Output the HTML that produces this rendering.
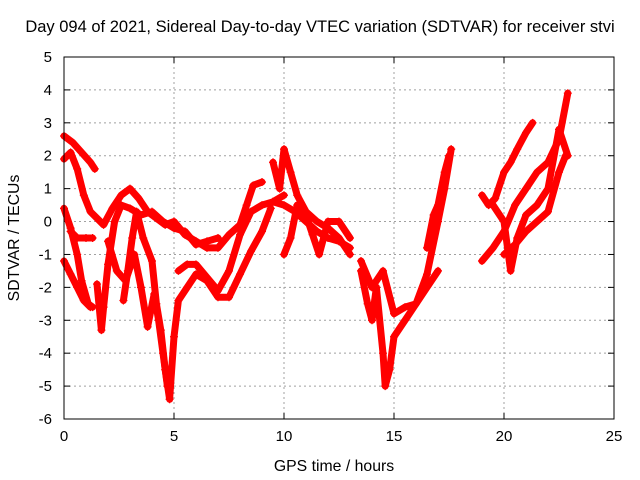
<!DOCTYPE html>
<html><head><meta charset="utf-8"><style>
html,body{margin:0;padding:0;background:#fff}
svg{display:block;font-family:"Liberation Sans",sans-serif}
</style></head><body>
<svg id="chart" width="640" height="480" viewBox="0 0 640 480">
<rect width="640" height="480" fill="#fff"/>
<text x="320" y="32" font-size="16.5" text-anchor="middle" fill="#000">Day 094 of 2021, Sidereal Day-to-day VTEC variation (SDTVAR) for receiver stvi</text>
<text x="334" y="471" font-size="15.8" text-anchor="middle" fill="#000">GPS time / hours</text>
<text transform="translate(19,238) rotate(-90)" font-size="15.8" text-anchor="middle" fill="#000">SDTVAR / TECUs</text>
<g id="grid"></g>
<g id="axes"></g>
<g id="series"></g>
<rect x="64" y="57" width="550" height="362" fill="none" stroke="#000" stroke-width="1"/>
</svg>
<script>
const xTicks=[0,5,10,15,20,25];
const yTicks=[5,4,3,2,1,0,-1,-2,-3,-4,-5,-6];
const s1=[[0,2.6],[0.4,2.4],[0.8,2.1],[1.2,1.8],[1.4,1.6]];
const s2=[[0,1.9],[0.3,2.1],[0.6,1.6],[0.9,0.8],[1.2,0.3],[1.5,0.1],[1.8,-0.1],[2.2,0.4],[2.6,0.8],[3.0,1.0],[3.4,0.7],[3.8,0.3],[4.2,0.1],[4.6,-0.1],[5.0,0.0],[5.5,-0.4],[6.0,-0.6],[6.5,-0.8],[7.0,-0.8],[7.5,-0.4],[8.0,-0.1],[8.3,0.5],[8.6,1.1],[9.0,1.2]];
const s3=[[0,0.4],[0.3,-0.2],[0.6,-1.0],[0.8,-1.8],[1.1,-2.5],[1.3,-2.6]];
const s4=[[0,-1.2],[0.3,-1.6],[0.6,-2.0],[0.9,-2.4],[1.2,-2.6]];
const s5=[[0.3,-0.3],[0.6,-0.5],[1.0,-0.5],[1.3,-0.5]];
const s6=[[1.5,-1.9],[1.7,-3.3],[1.8,-2.6],[2.0,-1.3],[2.3,0.0],[2.6,0.5],[3.0,0.4],[3.5,0.2],[4.0,0.3],[4.5,0.0],[5.0,-0.2],[5.5,-0.3],[6.0,-0.7],[6.5,-0.6],[7.0,-0.5]];
const s7=[[2.7,-2.4],[2.9,-1.5],[3.1,-0.5],[3.3,0.3],[3.6,-0.5],[4.0,-1.2],[4.2,-2.5],[4.4,-3.3],[4.6,-4.5],[4.8,-5.4],[5.0,-3.5],[5.2,-2.4],[5.6,-2.0],[6.0,-1.6],[6.5,-1.8],[7.0,-2.3],[7.5,-2.3],[8.0,-1.6],[8.5,-0.9],[9.0,-0.3],[9.4,0.4]];
const s8=[[2.0,-0.6],[2.4,-1.5],[2.8,-1.8],[3.2,-1.0],[3.5,-2.0],[3.8,-3.2],[4.1,-2.2],[4.3,-3.0],[4.5,-4.0],[4.7,-5.0]];
const s9=[[5.2,-1.5],[5.6,-1.3],[6.0,-1.3],[6.5,-1.7],[7.0,-2.1],[7.5,-1.5],[8.0,-0.4],[8.5,0.3],[9.0,0.5],[9.5,0.6],[10.0,0.8]];
const s10=[[9.5,1.8],[9.8,1.0],[10.0,2.2],[10.3,1.5],[10.6,0.8],[11.0,0.3],[11.5,0.0],[12.0,-0.2],[12.5,-0.5],[13.0,-1.0]];
const s11=[[9.5,0.6],[10.0,0.5],[10.5,0.3],[11.0,0.0],[11.5,-0.3],[12.0,-0.5],[12.5,-0.6],[13.0,-0.8]];
const s12=[[10.0,-1.0],[10.3,-0.5],[10.6,0.5],[11.0,0.2],[11.3,-0.4],[11.6,-1.0],[12.0,0.0],[12.5,0.0],[13.0,-0.5]];
const s13=[[13.5,-1.5],[13.8,-2.5],[14.0,-3.0],[14.2,-2.0],[14.5,-4.0],[14.6,-5.0],[14.8,-4.5],[15.0,-3.5],[15.5,-3.0],[16.0,-2.5],[16.5,-2.0],[17.0,-1.5]];
const s14=[[13.5,-1.2],[14.0,-2.0],[14.5,-1.5],[15.0,-2.8],[15.5,-2.6],[16.0,-2.5],[16.5,-1.6],[17.0,0.0],[17.3,1.0],[17.6,2.2]];
const s15=[[16.5,-0.8],[16.8,0.2],[17.0,0.5],[17.3,1.5],[17.5,2.0]];
const s16=[[19.0,0.8],[19.3,0.5],[19.6,0.7],[20.0,1.5],[20.3,1.8],[20.6,2.2],[21.0,2.7],[21.3,3.0]];
const s17=[[19.0,-1.2],[19.5,-0.8],[20.0,-0.3],[20.5,0.5],[21.0,1.0],[21.5,1.5],[22.0,1.8],[22.5,2.5],[22.9,3.9]];
const s18=[[19.5,0.5],[20.0,0.0],[20.3,-1.5],[20.6,-0.5],[21.0,0.2],[21.5,0.5],[22.0,1.0],[22.5,2.8],[22.9,2.0]];
const s19=[[20.0,-1.0],[20.5,-0.7],[21.0,-0.3],[21.5,0.0],[22.0,0.3],[22.5,1.5],[22.8,2.0]];
const allSeries=[s1,s2,s3,s4,s5,s6,s7,s8,s9,s10,s11,s12,s13,s14,s15,s16,s17,s18,s19];

const NS="http://www.w3.org/2000/svg";
const X0=64,X1=614,Y0=419,Y1=57;
function xs(v){return X0+(v-0)/(25-0)*(X1-X0);}
function ys(v){return Y0-(v-(-6))/(5-(-6))*(Y0-Y1);}
function mk(tag,attrs,parent){const e=document.createElementNS(NS,tag);for(const k in attrs)e.setAttribute(k,attrs[k]);parent.appendChild(e);return e;}
const grid=document.getElementById('grid'),axes=document.getElementById('axes'),ser=document.getElementById('series');
xTicks.forEach(t=>{
  const x=xs(t);
  if(t>0&&t<25){const l=mk('line',{x1:x,x2:x,y1:Y0,y2:Y1,stroke:'#a0a0a0','stroke-dasharray':'2,3','stroke-width':1},grid);
  
  }
  mk('line',{x1:x,x2:x,y1:Y0,y2:Y0-6,stroke:'#000'},axes);
  mk('line',{x1:x,x2:x,y1:Y1,y2:Y1+6,stroke:'#000'},axes);
  const tx=mk('text',{x:x,y:Y0+22,'font-size':15,'text-anchor':'middle'},axes);tx.textContent=t;
  
  
});
yTicks.forEach(t=>{
  const y=ys(t);
  if(t>-6&&t<5){const l=mk('line',{x1:X0,x2:X1,y1:y,y2:y,stroke:'#a0a0a0','stroke-dasharray':'2,3','stroke-width':1},grid);
  
  }
  mk('line',{x1:X0,x2:X0+6,y1:y,y2:y,stroke:'#000'},axes);
  mk('line',{x1:X1,x2:X1-6,y1:y,y2:y,stroke:'#000'},axes);
  const tx=mk('text',{x:X0-12,y:y+5,'font-size':15,'text-anchor':'end'},axes);tx.textContent=t;
  
  
});
allSeries.forEach((s,i)=>{
  const pts=s.map(p=>xs(p[0])+','+ys(p[1])).join(' ');
  const pl=mk('polyline',{points:pts,fill:'none',stroke:'#ff0000','stroke-width':7,'stroke-linejoin':'round','stroke-linecap':'round'},ser);
  
  
  s.forEach(p=>{
    const x=xs(p[0]),y=ys(p[1]);
    const m=mk('path',{d:`M${x-4},${y}H${x+4}M${x},${y-4}V${y+4}`,stroke:'#ff0000','stroke-width':1.2},ser);
    
    
  });
});
</script>
</body></html>
